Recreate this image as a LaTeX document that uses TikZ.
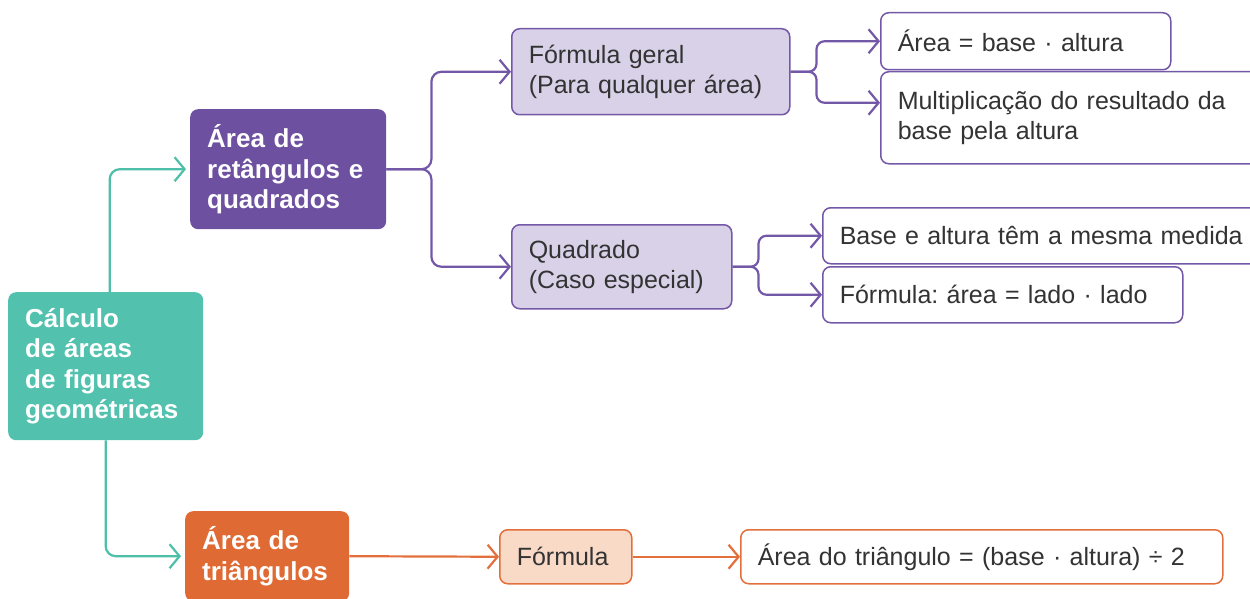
\documentclass[tikz,border=0pt]{standalone}
\usepackage{fontspec}
\setmainfont{Liberation Sans}
\frenchspacing
\usetikzlibrary{arrows.meta}

\definecolor{tealbox}{HTML}{52C1AE}
\definecolor{tealline}{HTML}{4DBFA9}
\definecolor{purpbox}{HTML}{6D50A0}
\definecolor{purpfill}{HTML}{D9D1E8}
\definecolor{purpline}{HTML}{7458A8}
\definecolor{orgbox}{HTML}{E06A34}
\definecolor{orgfill}{HTML}{F9DAC7}
\definecolor{orgline}{HTML}{E3703C}
\definecolor{txtgray}{HTML}{333333}

\begin{document}
\begin{tikzpicture}[
  x=1pt, y=-1pt,
  box/.style={rectangle, rounded corners=8pt, anchor=north west, inner xsep=17pt, inner ysep=0pt, align=left},
  topic/.style={box, text=white, font=\fontsize{26}{30.5}\selectfont\bfseries},
  sub/.style={box, line width=1.5pt, text=txtgray, font=\fontsize{25}{30}\selectfont},
  arr/.style={-{Straight Barb[length=10pt,width=24pt,line width=2.2pt]}, line width=2.2pt, rounded corners=10pt},
  tarr/.style={arr, draw=tealline, shorten >=4pt},
  parr/.style={arr, draw=purpline},
  oarr/.style={arr, draw=orgline}
]
\useasboundingbox (0,0) rectangle (1250,599);

% Main topic
\node[topic, fill=tealbox, minimum width=195pt, minimum height=148pt, text width=161pt] (calc) at (8,292)
  {C\'alculo\\de \'areas\\de figuras\\geom\'etricas};

% Rectangles and squares
\node[topic, fill=purpbox, minimum width=196pt, minimum height=120pt, text width=162pt] (ret) at (190,109)
  {\'Area de\\ret\^angulos e\\quadrados};
\node[sub, fill=purpfill, draw=purpline, minimum width=278pt, minimum height=86pt, text width=244pt] (geral) at (511,28)
  {Fórmula geral\\(Para qualquer área)};
\node[sub, fill=purpfill, draw=purpline, minimum width=220pt, minimum height=84pt, text width=186pt] (quad) at (511,224)
  {Quadrado\\(Caso especial)};
\node[sub, fill=white, draw=purpline, minimum width=290pt, minimum height=57pt, text width=256pt] (geralA) at (880,12)
  {Área = base · altura};
\node[sub, fill=white, draw=purpline, minimum width=400pt, minimum height=92pt, text width=366pt] (geralB) at (880,71)
  {Multiplicação do resultado da\\base pela altura};
\node[sub, fill=white, draw=purpline, minimum width=440pt, minimum height=56pt, text width=406pt] (quadA) at (822,207)
  {Base e altura têm a mesma medida};
\node[sub, fill=white, draw=purpline, minimum width=360pt, minimum height=56pt, text width=326pt] (quadB) at (822,266)
  {Fórmula: área = lado · lado};

% Triangles
\node[topic, fill=orgbox, minimum width=164pt, minimum height=90pt, text width=130pt] (tri) at (185,511)
  {\'Area de\\tri\^angulos};
\node[sub, fill=orgfill, draw=orgline, minimum width=132pt, minimum height=54pt, text width=98pt] (form) at (499,529)
  {Fórmula};
\node[sub, fill=white, draw=orgline, minimum width=482pt, minimum height=54pt, text width=448pt] (res) at (740,529)
  {Área do triângulo = (base · altura) ÷ 2};

% Connectors
\draw[tarr] ([xshift=4pt]calc.north) |- (ret.west);
\draw[tarr] (calc.south) |- (tri.west);
\draw[parr] (ret.east) -- ++(45,0) |- (geral.west);
\draw[parr] (ret.east) -- ++(45,0) |- (quad.west);
\draw[parr, rounded corners=8pt] (geral.east) -- ++(26,0) |- (geralA.west);
\draw[parr, rounded corners=8pt] (geral.east) -- ++(26,0) |- ([yshift=15pt]geralB.west);
\draw[parr, rounded corners=8pt] (quad.east) -- ++(26,0) |- (quadA.west);
\draw[parr, rounded corners=8pt] (quad.east) -- ++(26,0) |- (quadB.west);
\draw[oarr] (tri.east) -- (form.west);
\draw[oarr] (form.east) -- (res.west);

\end{tikzpicture}
\end{document}
